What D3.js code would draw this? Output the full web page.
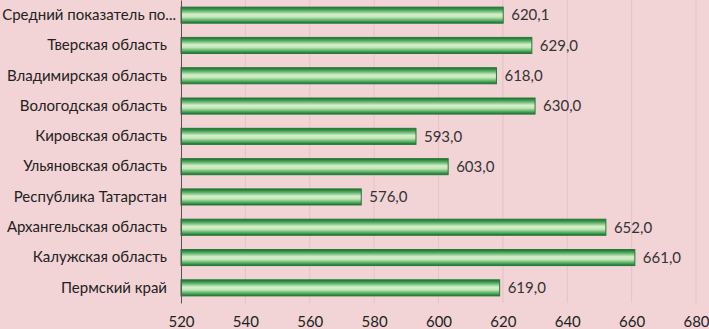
<!DOCTYPE html>
<html>
<head>
<meta charset="utf-8">
<script src="https://cdn.jsdelivr.net/npm/d3@7"></script>
<style>
  body { margin: 0; background: #f2d3d6; }
  svg { display: block; font-family: Lato, "Open Sans", sans-serif; }
</style>
</head>
<body>
<svg id="chart"></svg>
<script>
const categories = [
  'Средний показатель по...',
  'Тверская область',
  'Владимирская область',
  'Вологодская область',
  'Кировская область',
  'Ульяновская область',
  'Республика Татарстан',
  'Архангельская область',
  'Калужская область',
  'Пермский край'
];
const values = [620.1, 629.0, 618.0, 630.0, 593.0, 603.0, 576.0, 652.0, 661.0, 619.0];
const xTicks = [520, 540, 560, 580, 600, 620, 640, 660, 680];

const width = 709, height = 329;
const margin = { top: 0, right: 13, bottom: 26, left: 181 };
const fontSize = 15;

const svg = d3.select('#chart')
  .attr('width', width)
  .attr('height', height);

svg.append('rect')
  .attr('width', width)
  .attr('height', height)
  .attr('fill', '#f2d3d6');

const defs = svg.append('defs');
const grad = defs.append('linearGradient')
  .attr('id', 'barGrad')
  .attr('x1', 0).attr('y1', 0).attr('x2', 0).attr('y2', 1);
grad.append('stop').attr('offset', '0%').attr('stop-color', '#1d6b30');
grad.append('stop').attr('offset', '18%').attr('stop-color', '#4aa55a');
grad.append('stop').attr('offset', '45%').attr('stop-color', '#d6f0cb');
grad.append('stop').attr('offset', '62%').attr('stop-color', '#c4e8b8');
grad.append('stop').attr('offset', '85%').attr('stop-color', '#4ea85d');
grad.append('stop').attr('offset', '100%').attr('stop-color', '#1d6b30');

const x = d3.scaleLinear()
  .domain([520, 680])
  .range([margin.left, width - margin.right]);

const y = d3.scaleBand()
  .domain(categories)
  .range([margin.top, height - margin.bottom])
  .paddingInner(0.47)
  .paddingOuter(0.235);

// gridlines
svg.append('g')
  .selectAll('line')
  .data(xTicks.slice(1))
  .join('line')
  .attr('x1', d => x(d)).attr('x2', d => x(d))
  .attr('y1', margin.top).attr('y2', height - margin.bottom)
  .attr('stroke', '#e3c3c6')
  .attr('stroke-width', 1);

// bars
svg.append('g')
  .selectAll('rect')
  .data(values)
  .join('rect')
  .attr('x', x(520))
  .attr('y', (d, i) => y(categories[i]))
  .attr('width', d => x(d) - x(520))
  .attr('height', y.bandwidth())
  .attr('fill', 'url(#barGrad)')
  .attr('stroke', '#237a37')
  .attr('stroke-width', 1);

// value labels
svg.append('g')
  .selectAll('text')
  .data(values)
  .join('text')
  .attr('x', d => x(d) + 8)
  .attr('y', (d, i) => y(categories[i]) + y.bandwidth() / 2)
  .attr('dy', '0.35em')
  .attr('font-size', fontSize)
  .attr('fill', '#333')
  .text(d => d.toFixed(1).replace('.', ','));

// y axis
const yAxis = d3.axisLeft(y).tickSize(0).tickPadding(14);
const yAxisG = svg.append('g')
  .attr('transform', `translate(${margin.left},0)`)
  .call(yAxis);
yAxisG.select('.domain').attr('stroke', '#555');
yAxisG.selectAll('text').attr('font-size', fontSize).attr('fill', '#222')
  .attr('font-family', 'Lato, "Open Sans", sans-serif');
// truncated label sits closer to the axis, as in the source
yAxisG.selectAll('.tick text')
  .filter(d => d.endsWith('...'))
  .attr('x', -5);

// x axis
const xAxis = d3.axisBottom(x).tickValues(xTicks).tickSize(0).tickPadding(13);
const xAxisG = svg.append('g')
  .attr('transform', `translate(0,${height - margin.bottom})`)
  .call(xAxis);
xAxisG.select('.domain').remove();
xAxisG.selectAll('text').attr('font-size', fontSize).attr('fill', '#222')
  .attr('font-family', 'Lato, "Open Sans", sans-serif');
</script>
</body>
</html>
